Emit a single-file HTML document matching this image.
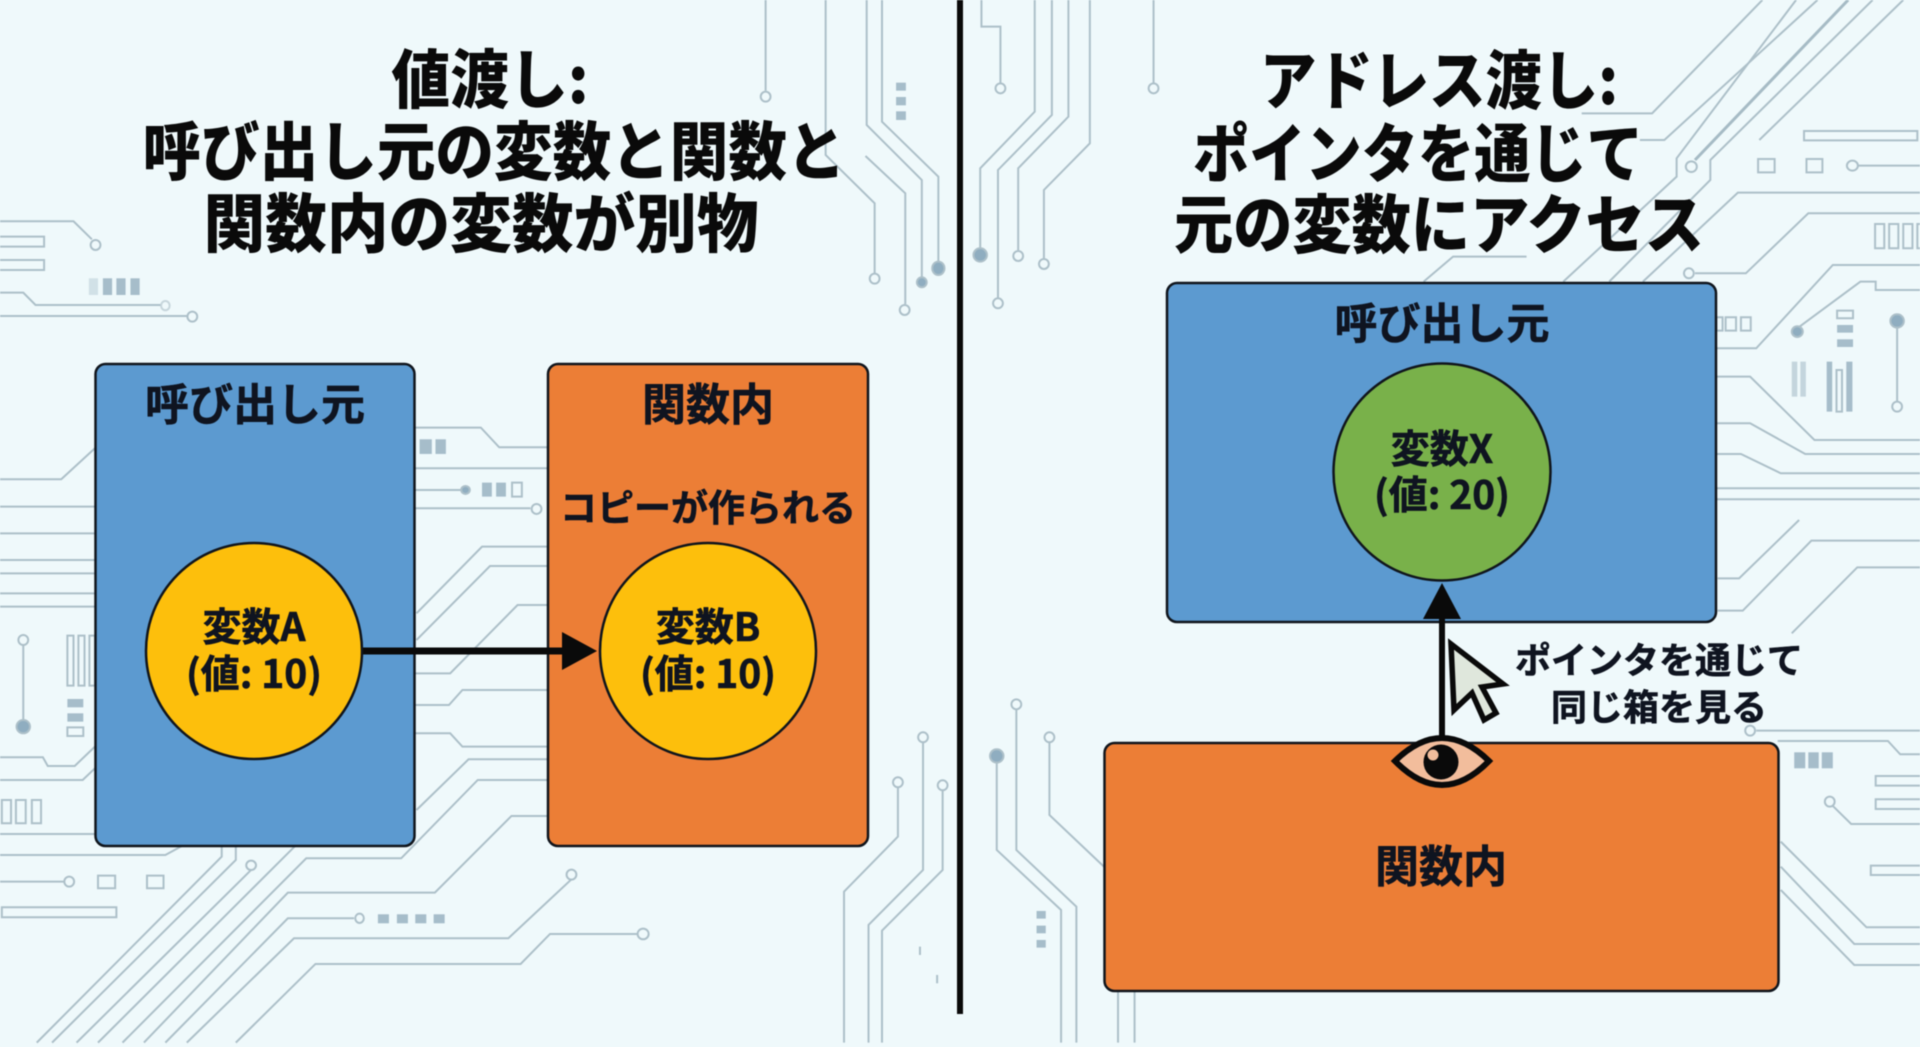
<!DOCTYPE html>
<html lang="ja"><head><meta charset="utf-8"><title>値渡しとアドレス渡し</title>
<style>
html,body{margin:0;padding:0;width:1920px;height:1047px;overflow:hidden;background:#eff9fb}
svg{display:block;filter:blur(.5px)}
text{font-family:"Noto Sans CJK JP","Liberation Sans",sans-serif;font-weight:700;text-anchor:middle;dominant-baseline:central}
.t text{fill:#0a0a0a;font-size:64px;font-weight:900}
.b{fill:#0f1420;stroke:#0f1420;stroke-width:.6px}
.c polyline,.c line{fill:none;stroke:#adc0c9;stroke-width:2;vector-effect:non-scaling-stroke}
.c rect.o{fill:none;stroke:#adc0c9;stroke-width:2;vector-effect:non-scaling-stroke}
.c rect.f{fill:#a6bdca}
.c ellipse{fill:#eff9fb;stroke:#adc0c9;stroke-width:2;vector-effect:non-scaling-stroke}
.c ellipse.f{fill:#8fadc0}
</style></head><body>
<svg width="1920" height="1047" viewBox="0 0 1920 1047" xmlns="http://www.w3.org/2000/svg">
<rect width="1920" height="1047" fill="#eff9fb"/>
<g class="c" transform="scale(.6125,.3333)">
<polyline points="1250,0 1250,272"/><ellipse cx="1250" cy="290" rx="8" ry="15"/>
<polyline points="1348,0 1348,465 1428,610 1428,820"/><ellipse cx="1428" cy="836" rx="8" ry="15"/>
<polyline points="1415,0 1415,375 1505,540 1505,830"/><ellipse class="f" cx="1505" cy="847" rx="8" ry="15"/>
<polyline points="1440,0 1440,365 1532,530 1532,790"/><ellipse class="f" cx="1532" cy="805" rx="10" ry="20"/>
<polyline points="1413,468 1478,580 1478,912"/><ellipse cx="1477" cy="930" rx="8" ry="15"/>
<rect class="f" x="1463" y="248" width="16" height="24"/><rect class="f" x="1463" y="291" width="16" height="25"/><rect class="f" x="1463" y="334" width="16" height="26"/>
<polyline points="0,664 120,664 150,718"/><ellipse cx="156" cy="735" rx="8" ry="15"/>
<rect class="o" x="-5" y="710" width="77" height="30"/><rect class="o" x="-5" y="780" width="77" height="30"/>
<rect class="f" x="145" y="835" width="15" height="50" opacity=".4"/><rect class="f" x="168" y="835" width="15" height="50"/><rect class="f" x="190" y="835" width="15" height="50"/><rect class="f" x="213" y="835" width="15" height="50"/>
<polyline points="0,878 38,878 58,915 262,915"/><ellipse cx="270" cy="917" rx="7" ry="14" opacity=".6"/>
<polyline points="0,948 305,948"/><ellipse cx="314" cy="950" rx="8" ry="15"/>
<polyline points="678,1283 785,1283 815,1342 895,1342"/>
<rect class="f" x="685" y="1318" width="20" height="44"/><rect class="f" x="711" y="1318" width="17" height="44"/>
<polyline points="678,1405 895,1405"/>
<polyline points="678,1470 752,1470"/><ellipse class="f" cx="760" cy="1470" rx="7" ry="12"/>
<rect class="f" x="787" y="1448" width="16" height="42"/><rect class="f" x="810" y="1448" width="16" height="42"/><rect class="o" x="836" y="1448" width="16" height="42"/>
<polyline points="678,1525 866,1525"/><ellipse cx="876" cy="1527" rx="8" ry="15"/>
<polyline points="155,1345 100,1438 0,1438"/><polyline points="0,1520 155,1520"/>
</g>
<g class="c" transform="translate(0,520) scale(.6125,.3333)">
<polyline points="0,40 155,40"/><polyline points="0,120 155,120"/><polyline points="0,160 155,160"/><polyline points="0,220 155,220"/><polyline points="0,260 155,260"/>
<polyline points="38,375 38,600"/><ellipse cx="38" cy="360" rx="8" ry="15"/><ellipse class="f" cx="38" cy="620" rx="11" ry="20"/>
<rect class="o" x="110" y="347" width="10" height="150"/><rect class="o" x="128" y="347" width="10" height="150"/><rect class="o" x="146" y="347" width="9" height="150"/>
<rect class="f" x="110" y="537" width="26" height="25"/><rect class="f" x="110" y="580" width="26" height="25"/><rect class="o" x="110" y="622" width="26" height="26"/>
<polyline points="0,712 70,712 78,738 122,738 155,680"/><polyline points="0,780 135,780 155,745"/>
<rect class="o" x="3" y="840" width="15" height="70"/><rect class="o" x="26" y="840" width="16" height="70"/><rect class="o" x="52" y="840" width="15" height="70"/>
<polyline points="0,942 155,942"/><polyline points="0,1005 270,1005 300,975"/>
<polyline points="0,1085 105,1085"/><ellipse cx="113" cy="1085" rx="8" ry="15"/>
<rect class="o" x="160" y="1067" width="28" height="38"/><rect class="o" x="240" y="1067" width="27" height="38"/>
<rect class="o" x="3" y="1162" width="187" height="30"/>
<polyline points="362,975 362,1010 60,1568"/><polyline points="385,975 385,1020 85,1568"/>
<polyline points="410,1050 125,1568"/><ellipse cx="410" cy="1036" rx="8" ry="14"/>
<polyline points="482,978 160,1568"/>
<polyline points="895,718 765,718 680,870"/>
<polyline points="895,780 780,780 655,1015 500,1015 200,1568"/>
<polyline points="895,888 835,888 710,1118 470,1118 235,1568"/>
<polyline points="578,1195 470,1195 270,1568"/><ellipse cx="587" cy="1195" rx="7" ry="14"/>
<polyline points="933,1078 830,1255 480,1255 305,1568"/><ellipse cx="933" cy="1064" rx="8" ry="15"/>
<polyline points="1040,1242 898,1242 850,1332 515,1332 385,1568"/><ellipse cx="1050" cy="1242" rx="9" ry="16"/>
<rect class="f" x="617" y="1183" width="18" height="27"/><rect class="f" x="648" y="1183" width="18" height="27"/><rect class="f" x="678" y="1183" width="18" height="27"/><rect class="f" x="708" y="1183" width="18" height="27"/>
<polyline points="895,80 787,80 680,280"/><polyline points="895,138 800,138 680,360"/>
<polyline points="895,255 845,255 735,460 678,460"/>
<polyline points="895,510 755,510 733,555 678,555"/>
<polyline points="678,640 735,640 755,680 895,680"/>
<polyline points="1507,668 1507,1050 1418,1215 1418,1568"/><ellipse cx="1507" cy="652" rx="8" ry="15"/>
<polyline points="1466,803 1466,950 1378,1115 1378,1568"/><ellipse cx="1466" cy="787" rx="8" ry="15"/>
<polyline points="1539,812 1539,1050 1440,1232 1440,1568"/><ellipse cx="1539" cy="796" rx="8" ry="15"/>
<polyline points="1502,1280 1502,1305"/><polyline points="1530,1365 1530,1390"/>
</g>
<g class="c" transform="translate(960,0) scale(.6125,.3333)">
<polyline points="35,0 35,80 66,80 66,248"/><ellipse cx="66" cy="265" rx="8" ry="15"/>
<polyline points="122,0 122,335 33,505 33,745"/><ellipse class="f" cx="33" cy="765" rx="11" ry="20"/>
<polyline points="150,0 150,345 62,510 62,895"/><ellipse cx="62" cy="910" rx="8" ry="15"/>
<polyline points="177,0 177,350 95,505 95,750"/><ellipse cx="95" cy="768" rx="8" ry="15"/>
<polyline points="212,0 212,430 137,570 137,775"/><ellipse cx="137" cy="792" rx="8" ry="15"/>
<polyline points="316,0 316,248"/><ellipse cx="316" cy="265" rx="8" ry="15"/>
<polyline points="1310,0 1130,340 1015,340"/>
<polyline points="1400,0 1150,420 1110,420"/>
<polyline points="1450,0 1200,480" style="stroke-width:3;stroke:#a6bbc5"/><ellipse cx="1194" cy="500" rx="9" ry="16"/>
<polyline points="1490,0 1225,480 1225,540 1060,845"/>
<polyline points="1540,0 1305,420"/>
<polyline points="1365,0 1170,475 1170,530 985,845"/>
<polyline points="925,770 805,770 757,845"/>
<polyline points="1115,845 1270,578 1568,578"/>
<polyline points="1200,820 1283,820 1385,640 1568,640"/><ellipse cx="1190" cy="820" rx="8" ry="15"/>
<polyline points="1235,1045 1300,1045 1425,795 1568,795"/>
<polyline points="1367,985 1470,845 1495,845 1495,870 1568,870"/><ellipse class="f" cx="1367" cy="995" rx="9" ry="16"/>
<rect class="o" x="1378" y="393" width="185" height="28"/>
<rect class="o" x="1303" y="477" width="27" height="40"/><rect class="o" x="1382" y="477" width="26" height="40"/>
<polyline points="1466,497 1568,497"/><ellipse cx="1457" cy="497" rx="9" ry="15"/>
<rect class="o" x="1494" y="672" width="15" height="73"/><rect class="o" x="1517" y="672" width="15" height="73"/><rect class="o" x="1540" y="672" width="15" height="73"/><rect class="o" x="1563" y="672" width="15" height="73"/>
<rect class="o" x="1235" y="952" width="10" height="40"/><rect class="o" x="1250" y="952" width="17" height="40"/><rect class="o" x="1275" y="952" width="16" height="40"/>
<rect class="o" x="1432" y="932" width="26" height="23"/><rect class="f" x="1432" y="975" width="26" height="23"/><rect class="f" x="1432" y="1018" width="26" height="23"/>
<polyline points="1530,980 1530,1205"/><ellipse class="f" cx="1530" cy="963" rx="11" ry="20"/><ellipse cx="1530" cy="1220" rx="8" ry="15"/>
<rect class="f" x="1358" y="1085" width="9" height="105" opacity=".6"/><rect class="f" x="1372" y="1085" width="9" height="105" opacity=".6"/>
<rect class="f" x="1415" y="1085" width="9" height="150"/><rect class="o" x="1431" y="1110" width="9" height="125"/><rect class="f" x="1447" y="1085" width="10" height="150"/>
<polyline points="1235,1130 1290,1130 1395,1320 1568,1320"/>
<polyline points="1235,1270 1290,1270 1380,1362 1568,1362"/>
<polyline points="1235,1362 1275,1362 1340,1420 1568,1420"/>
<polyline points="1235,1465 1568,1465"/><polyline points="1235,1498 1568,1498"/>
</g>
<g class="c" transform="translate(960,520) scale(.6125,.3333)">
<polyline points="1237,175 1272,175 1370,0"/><polyline points="1237,272 1278,272 1390,62 1568,62"/><polyline points="1358,340 1465,142 1568,142"/>
<polyline points="1300,632 1568,632"/><ellipse cx="1290" cy="632" rx="8" ry="15"/>
<polyline points="1335,663 1515,663 1535,703 1568,703"/>
<rect class="f" x="1362" y="697" width="18" height="48"/><rect class="f" x="1385" y="697" width="17" height="48"/><rect class="f" x="1407" y="697" width="18" height="48"/>
<rect class="o" x="1495" y="768" width="80" height="29"/><rect class="o" x="1495" y="838" width="80" height="29"/>
<polyline points="1425,858 1455,912 1568,912"/><ellipse cx="1420" cy="845" rx="8" ry="15"/>
<rect class="o" x="1487" y="1037" width="90" height="28"/>
<polyline points="1340,965 1480,1222 1568,1222"/><polyline points="1340,1040 1460,1272 1568,1272"/><polyline points="1340,1110 1460,1335 1568,1335"/>
<polyline points="92,568 92,990 190,1160 190,1568"/><ellipse cx="92" cy="553" rx="8" ry="15"/>
<polyline points="60,725 60,990 165,1170 165,1568"/><ellipse class="f" cx="60" cy="708" rx="11" ry="20"/>
<polyline points="146,668 146,885 235,1040"/><ellipse cx="146" cy="652" rx="8" ry="15"/>
<rect class="f" x="125" y="1173" width="15" height="23"/><rect class="f" x="125" y="1217" width="15" height="23"/><rect class="f" x="125" y="1260" width="15" height="23"/>
<polyline points="258,1402 258,1568"/><polyline points="285,1402 285,1568"/>
</g>

<rect x="957" y="0" width="6" height="1014" fill="#0a0a0a"/>

<g class="t">
<text x="490" y="76" textLength="197" lengthAdjust="spacingAndGlyphs">値渡し:</text>
<text x="494" y="148" textLength="703" lengthAdjust="spacingAndGlyphs">呼び出し元の変数と関数と</text>
<text x="481" y="220" textLength="555" lengthAdjust="spacingAndGlyphs">関数内の変数が別物</text>
<text x="1439" y="77" textLength="358" lengthAdjust="spacingAndGlyphs">アドレス渡し:</text>
<text x="1418" y="150" textLength="450" lengthAdjust="spacingAndGlyphs">ポインタを通じて</text>
<text x="1439" y="221" textLength="530" lengthAdjust="spacingAndGlyphs">元の変数にアクセス</text>
</g>

<rect x="95.500" y="364" width="319" height="482" rx="10" fill="#5c9ad0" stroke="#10151c" stroke-width="2.500"/>
<rect x="548" y="364" width="320" height="482" rx="10" fill="#ec7e36" stroke="#10151c" stroke-width="2.500"/>
<text class="b" x="255" y="401" font-size="44">呼び出し元</text>
<text class="b" x="708" y="401" font-size="44">関数内</text>
<text class="b" x="708" y="505" font-size="37">コピーが作られる</text>
<line x1="362" y1="651" x2="565" y2="651" stroke="#0a0a0a" stroke-width="7"/>
<polygon points="562,632 597,651 562,670" fill="#0a0a0a"/>
<circle cx="254" cy="651" r="108" fill="#fdbf0c" stroke="#10151c" stroke-width="2.500"/>
<circle cx="708" cy="651" r="108" fill="#fdbf0c" stroke="#10151c" stroke-width="2.500"/>
<text class="b" x="254" y="625" font-size="39">変数A</text>
<text class="b" x="254" y="672" font-size="39">(値: 10)</text>
<text class="b" x="708" y="625" font-size="39">変数B</text>
<text class="b" x="708" y="672" font-size="39">(値: 10)</text>

<rect x="1167" y="283" width="549" height="339" rx="10" fill="#5c9ad0" stroke="#10151c" stroke-width="2.500"/>
<text class="b" x="1442" y="321" font-size="43">呼び出し元</text>
<circle cx="1442" cy="472" r="108.500" fill="#79b14a" stroke="#10151c" stroke-width="2.500"/>
<text class="b" x="1442" y="447" font-size="39">変数X</text>
<text class="b" x="1442" y="493" font-size="39">(値: 20)</text>

<rect x="1104.500" y="743" width="674" height="248" rx="10" fill="#ec7e36" stroke="#10151c" stroke-width="2.500"/>
<text class="b" x="1441" y="863" font-size="44">関数内</text>

<line x1="1442" y1="738" x2="1442" y2="612" stroke="#0a0a0a" stroke-width="6"/>
<polygon points="1442,583 1423,619 1461,619" fill="#0a0a0a"/>

<polygon points="1451,644 1454,710 1472,693 1484,720 1496,713 1482,687 1503,684" fill="#dfe7dc" stroke="#0a0a0a" stroke-width="5.500" stroke-linejoin="miter"/>

<text class="b" x="1659" y="658" font-size="36">ポインタを通じて</text>
<text class="b" x="1659" y="705" font-size="36">同じ箱を見る</text>

<path d="M1395,761 Q1442,715 1489,761 Q1442,809 1395,761 Z" fill="#f2bd9c" stroke="#0a0a0a" stroke-width="6" stroke-linejoin="miter"/>
<circle cx="1441" cy="762" r="17.500" fill="#0a0a0a"/>
<circle cx="1433" cy="755" r="5.500" fill="#f2bd9c"/>
</svg>
</body></html>
